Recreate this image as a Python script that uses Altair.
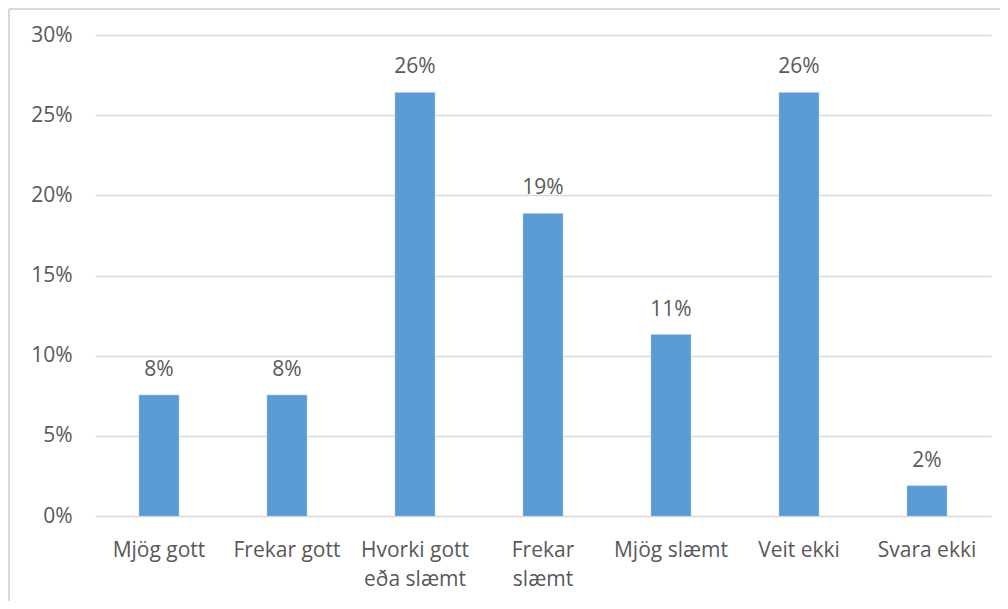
import altair as alt
import pandas as pd

categories = ["Mjög gott", "Frekar gott", "Hvorki gott eða slæmt", "Frekar slæmt",
              "Mjög slæmt", "Veit ekki", "Svara ekki"]
values = [0.0755, 0.0755, 0.2642, 0.1887, 0.1132, 0.2642, 0.0189]
labels = ["8%", "8%", "26%", "19%", "11%", "26%", "2%"]

df = pd.DataFrame({"cat": categories, "val": values, "lbl": labels})

FONT = "Open Sans"
FS = 21
GRAY = "#595959"

label_expr = ("datum.value == 'Hvorki gott eða slæmt' ? ['Hvorki gott', 'eða slæmt'] : "
              "datum.value == 'Frekar slæmt' ? ['Frekar', 'slæmt'] : datum.value")

x = alt.X("cat:N", sort=categories, title=None,
          scale=alt.Scale(paddingInner=0.6875, paddingOuter=0.34375),
          axis=alt.Axis(labelAngle=0, labelExpr=label_expr, labelFont=FONT, labelFontSize=FS,
                        labelColor=GRAY, labelPadding=23, labelLineHeight=29,
                        domain=False, ticks=False, grid=False, labelBaseline="top"))
y = alt.Y("val:Q", title=None,
          scale=alt.Scale(domain=[0, 0.30], nice=False),
          axis=alt.Axis(format=".0%", values=[0, 0.05, 0.10, 0.15, 0.20, 0.25, 0.30],
                        labelFont=FONT, labelFontSize=FS, labelColor=GRAY, labelPadding=23,
                        domain=False, ticks=False, gridColor="#D9D9D9", gridWidth=1.5))

bars = alt.Chart(df).mark_bar(color="#5B9BD5", stroke="#A9C8EA", strokeWidth=0.5).encode(x=x, y=y)
text = alt.Chart(df).mark_text(font=FONT, fontSize=FS, color=GRAY, baseline="alphabetic", dy=-19).encode(
    x=alt.X("cat:N", sort=categories), y=alt.Y("val:Q"), text="lbl:N")

border_v = alt.Chart(df).mark_rule(color="#D9D9D9", strokeWidth=2).encode(
    x=alt.value(-86), y=alt.value(-26), y2=alt.value(600))
border_h = alt.Chart(df).mark_rule(color="#D9D9D9", strokeWidth=2).encode(
    x=alt.value(-86), x2=alt.value(910), y=alt.value(-26))

chart = alt.layer(border_v, border_h, bars, text).properties(
    width=896, height=481,
    padding={"left": 87, "top": 27, "right": 9, "bottom": 85},
    autosize=alt.AutoSizeParams(type="none"),
    background="white",
).configure_view(strokeWidth=0, stroke="transparent").configure_axis(
    domain=False, ticks=False
)

chart.save("out.html", embed_options={"renderer": "svg", "actions": False})
